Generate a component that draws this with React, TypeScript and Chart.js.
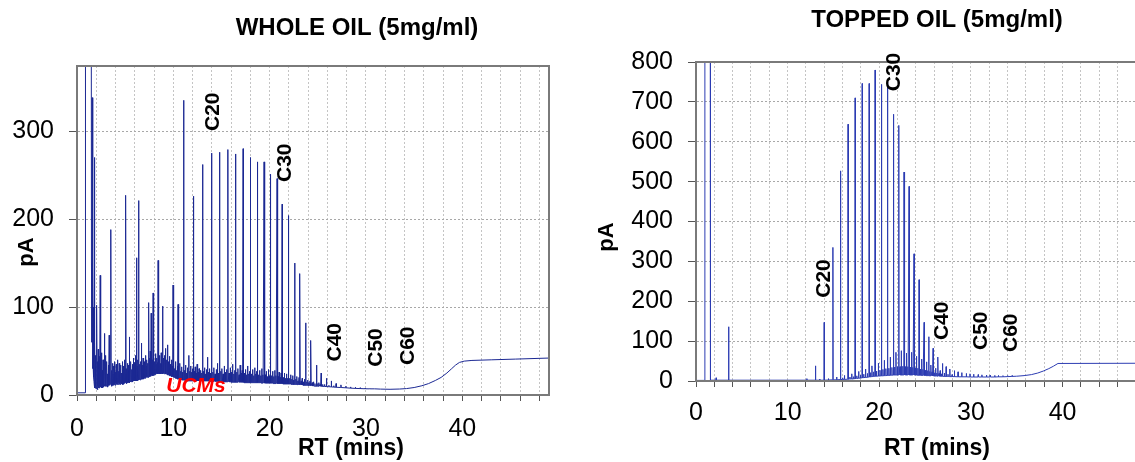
import React, { useEffect, useRef } from 'react';
import { Chart, registerables } from 'chart.js';

Chart.register(...registerables);

const FONT = '"Liberation Sans", Arial, Helvetica, sans-serif';

// ---------- shared axis labels ----------
const rtTickLabels = [0, 10, 20, 30, 40];

// ---------- WHOLE OIL ----------
// baseline stretches without peaks: [RT (min), pA]
const wholeBaseline: [number, number][] = [
  [0, 2.5], [0.86, 2.5], [0.88, 1000], [1.45, 1000], [1.5, 150],
  [30.9, 7], [31.5, 6.7], [32.5, 6.5], [33.5, 6.8], [34.2, 7.3], [35, 8.5],
  [35.8, 10.5], [36.5, 13], [37.2, 16.5], [37.8, 20], [38.4, 25], [38.9, 30],
  [39.3, 34], [39.7, 37], [40.2, 38.5], [41, 39.3], [43, 40], [45.5, 40.8], [49, 42],
];
// peaks: [RT (min), apex pA, base pA]
const wholePeaks: [number, number, number][] = [
  [1.58, 338, 60], [1.66, 145, 30], [1.72, 100, 20], [1.79, 270, 15], [1.86, 60, 8],
  [1.93, 45, 10], [2.0, 55, 7], [2.07, 102, 9], [2.14, 38, 6], [2.2, 52, 10],
  [2.27, 30, 8], [2.34, 44, 12], [2.41, 136, 10], [2.48, 35, 9], [2.55, 48, 12],
  [2.62, 28, 8], [2.7, 40, 11], [2.76, 25, 9], [2.83, 70, 12], [2.9, 32, 10],
  [2.97, 45, 13], [3.04, 27, 10], [3.11, 38, 12], [3.18, 24, 9], [3.25, 34, 12],
  [3.34, 68, 11], [3.42, 30, 13], [3.52, 188, 12], [3.6, 28, 10], [3.68, 36, 13],
  [3.75, 24, 11], [3.83, 33, 12], [3.9, 38, 13], [3.98, 26, 11], [4.06, 35, 14],
  [4.14, 30, 12], [4.22, 40, 14], [4.3, 27, 12], [4.38, 36, 14], [4.46, 29, 12],
  [4.54, 34, 14], [4.62, 25, 13], [4.7, 38, 14], [4.78, 28, 12], [4.86, 33, 15],
  [4.94, 40, 13], [5.0, 30, 14], [5.07, 227, 14], [5.15, 30, 13], [5.23, 36, 15],
  [5.3, 28, 14], [5.38, 34, 15], [5.45, 66, 14], [5.53, 30, 16], [5.6, 38, 15],
  [5.68, 29, 16], [5.76, 35, 15], [5.84, 42, 17], [5.92, 30, 16], [6.0, 37, 17],
  [6.08, 45, 16], [6.17, 156, 17], [6.25, 33, 16], [6.33, 40, 18], [6.41, 221, 17],
  [6.5, 35, 18], [6.58, 30, 17], [6.64, 38, 18], [6.7, 59, 18], [6.78, 34, 19],
  [6.86, 42, 18], [6.94, 31, 19], [7.02, 38, 20], [7.1, 45, 19], [7.18, 33, 20],
  [7.26, 40, 21], [7.35, 36, 20], [7.45, 105, 21], [7.53, 42, 22], [7.6, 50, 21],
  [7.7, 93, 22], [7.8, 40, 23], [7.9, 116, 22], [7.98, 44, 23], [8.06, 38, 24],
  [8.14, 47, 23], [8.22, 35, 24], [8.3, 42, 25], [8.36, 37, 24], [8.42, 153, 24],
  [8.5, 40, 25], [8.58, 45, 24], [8.66, 36, 25], [8.74, 48, 24], [8.82, 39, 25],
  [8.9, 101, 24], [8.98, 42, 25], [9.06, 37, 24], [9.13, 45, 25], [9.2, 53, 24],
  [9.3, 40, 24], [9.4, 57, 23], [9.5, 38, 23], [9.6, 44, 22], [9.7, 35, 22],
  [9.8, 40, 21], [9.88, 33, 21], [9.97, 125, 21], [10.06, 34, 20], [10.15, 30, 20],
  [10.24, 38, 19], [10.33, 28, 19], [10.41, 33, 19], [10.49, 103, 18], [10.58, 30, 18],
  [10.68, 36, 18], [10.78, 27, 18], [10.88, 32, 17], [10.97, 26, 17], [11.07, 335, 17],
  [11.17, 28, 17], [11.27, 34, 16], [11.37, 25, 16], [11.47, 31, 16], [11.6, 45, 16],
  [11.7, 27, 16], [11.8, 33, 16], [11.9, 26, 16], [11.98, 30, 16], [12.07, 226, 16],
  [12.17, 27, 16], [12.27, 32, 16], [12.37, 25, 16], [12.47, 35, 16], [12.57, 26, 16],
  [12.67, 30, 16], [12.77, 24, 16], [12.87, 28, 16], [12.95, 25, 16], [13.04, 262, 16],
  [13.14, 27, 16], [13.24, 31, 16], [13.34, 24, 16], [13.44, 29, 16], [13.55, 43, 16],
  [13.65, 26, 16], [13.75, 30, 15.5], [13.85, 25, 15.5], [13.97, 275, 15.5],
  [14.1, 26, 15.5], [14.22, 31, 15.5], [14.34, 24, 15.5], [14.46, 29, 15.5], [14.58, 36, 15.5], [14.69, 25, 15],
  [14.8, 276, 15],
  [14.93, 27, 15], [15.05, 30, 15], [15.17, 24, 15], [15.29, 33, 15], [15.41, 26, 15], [15.53, 29, 15],
  [15.66, 279, 15],
  [15.79, 25, 15], [15.91, 31, 15], [16.03, 26, 14.5], [16.15, 35, 14.5], [16.27, 24, 14.5], [16.37, 28, 14.5],
  [16.46, 274, 14.5],
  [16.58, 26, 14.5], [16.7, 30, 14.5], [16.82, 23, 14.5], [16.94, 34, 14.5], [17.05, 25, 14.5], [17.15, 28, 14.5],
  [17.25, 280, 14.5],
  [17.37, 25, 14], [17.49, 29, 14], [17.6, 23, 14], [17.71, 33, 14], [17.82, 24, 14], [17.91, 27, 14],
  [18.0, 270, 14],
  [18.12, 24, 14], [18.23, 29, 14], [18.34, 22, 14], [18.45, 31, 14], [18.55, 24, 14], [18.64, 27, 14],
  [18.73, 265, 14],
  [18.85, 23, 14], [18.96, 28, 14], [19.07, 22, 14], [19.18, 30, 13.5], [19.3, 23, 13.5],
  [19.42, 265, 13.5],
  [19.54, 23, 13.5], [19.65, 27, 13.5], [19.76, 21, 13.5], [19.87, 29, 13.5], [19.98, 22, 13.5],
  [20.08, 251, 13.5],
  [20.2, 22, 13.5], [20.31, 27, 13.5], [20.42, 21, 13], [20.53, 28, 13], [20.65, 22, 13],
  [20.77, 246, 13],
  [20.88, 21, 13], [20.98, 26, 13], [21.08, 20, 13], [21.19, 25, 13],
  [21.3, 217, 13],
  [21.42, 20, 12.5], [21.53, 25, 12.5], [21.64, 19, 12.5], [21.75, 24, 12.5], [21.85, 19, 12.5],
  [21.95, 204, 12.5],
  [22.07, 19, 12.5], [22.18, 23, 12.5], [22.29, 18, 12], [22.4, 22, 12], [22.5, 17, 12],
  [22.6, 150, 12],
  [22.72, 18, 12], [22.83, 21, 12], [22.94, 16, 11.5], [23.05, 20, 11.5],
  [23.15, 138, 11.5],
  [23.27, 16, 11.5], [23.38, 19, 11.5], [23.5, 15, 11], [23.62, 18, 11],
  [23.74, 82, 11],
  [23.86, 15, 11], [23.97, 17, 11], [24.08, 14, 10.5], [24.19, 16, 10.5],
  [24.29, 62, 10.5],
  [24.42, 14, 10.5], [24.55, 15, 10.5], [24.7, 13, 10],
  [24.87, 34, 10],
  [25.0, 13, 10], [25.12, 14, 10], [25.24, 12, 10],
  [25.35, 25, 10], [25.5, 12, 9.8], [25.7, 12, 9.8],
  [25.9, 19, 9.6], [26.15, 11, 9.4], [26.4, 16, 9.2], [26.65, 10.5, 9], [26.9, 13, 8.8],
  [27.4, 11.5, 8.5], [27.9, 10, 8.2], [28.4, 9.2, 7.8], [28.9, 8.7, 7.5], [29.4, 8.2, 7.3],
  [29.9, 7.8, 7.1], [30.4, 7.4, 7],
];
const wholeMarkers = ['C20', 'C30', 'C40', 'C50', 'C60'];
const wholeMarkerRT = [14.1, 21.6, 26.8, 31.1, 34.4];
const wholeMarkerPA = [322, 264, 60, 54, 56];
const ucmLabel = 'UCMs';
const ucmRT = 12.35;
const ucmPA = 10;

// ---------- TOPPED OIL ----------
const toppedBaseline: [number, number][] = [
  [0, 1.5], [0.95, 1.5], [0.97, 2000], [1.54, 2000], [1.58, 2],
  [35, 12], [35.8, 13.5], [36.6, 16], [37.3, 20], [37.9, 25], [38.5, 31],
  [39, 37], [39.5, 44], [48, 44.5], [49, 44.5],
];
const toppedPeaks: [number, number, number][] = [
  [2.2, 8, 2], [3.56, 136, 2], [12.1, 6, 2], [13.04, 38, 2], [13.5, 5, 2],
  [13.99, 147, 2], [14.45, 6, 2.5], [14.94, 335, 3], [15.35, 10, 3], [15.77, 527, 3.5],
  [16.0, 8, 4], [16.2, 14, 4], [16.6, 644, 4.5], [16.8, 10, 5], [17.0, 18, 5],
  [17.2, 11, 5.5], [17.37, 710, 6], [17.55, 13, 6.5], [17.75, 24, 7], [17.95, 15, 7.5],
  [18.14, 746, 8], [18.3, 17, 8.5], [18.5, 30, 9], [18.7, 19, 9.5], [18.9, 746, 10],
  [19.05, 21, 10.5], [19.2, 38, 11], [19.38, 23, 11.5], [19.55, 780, 12], [19.7, 25, 12],
  [19.9, 45, 12.5], [20.08, 27, 12.5], [20.24, 744, 13], [20.4, 29, 13], [20.55, 52, 13.5],
  [20.72, 31, 13.5], [20.9, 750, 14], [21.05, 32, 14], [21.2, 60, 14.5], [21.38, 34, 14.5],
  [21.55, 669, 15], [21.68, 35, 15], [21.82, 72, 15], [21.98, 36, 15], [22.13, 641, 15],
  [22.27, 36, 15], [22.4, 76, 15], [22.56, 37, 15], [22.7, 524, 15], [22.82, 36, 15],
  [22.96, 70, 15], [23.12, 36, 15], [23.26, 488, 15], [23.38, 35, 15], [23.52, 72, 15],
  [23.66, 34, 15], [23.8, 319, 15], [23.93, 33, 15], [24.06, 62, 15], [24.2, 32, 14.5],
  [24.35, 254, 14.5], [24.48, 30, 14.5], [24.62, 55, 14], [24.76, 29, 14], [24.9, 147, 14],
  [25.03, 27, 14], [25.16, 48, 13.5], [25.28, 26, 13.5], [25.4, 111, 13.5], [25.52, 24, 13],
  [25.64, 40, 13], [25.76, 23, 13], [25.88, 82, 13], [26.0, 21, 12.5], [26.15, 32, 12.5],
  [26.28, 20, 12.5], [26.4, 60, 12], [26.52, 19, 12], [26.65, 26, 12], [26.78, 18, 12],
  [26.9, 44, 12], [27.1, 20, 11.5], [27.3, 36, 11.5], [27.5, 17, 11.5], [27.7, 30, 11],
  [27.95, 16, 11], [28.2, 26, 11], [28.6, 23, 10.5], [29.0, 21, 10.5], [29.5, 19, 10.5],
  [29.9, 18, 10], [30.3, 17, 10], [30.8, 16, 10], [31.2, 15.5, 10], [31.7, 15, 10],
  [32.1, 14.5, 10], [32.6, 14, 10], [33.0, 14, 10.5], [33.5, 13.5, 10.5], [34.0, 13.5, 11],
  [34.5, 13.5, 11.5],
];
const toppedMarkers = ['C20', 'C30', 'C40', 'C50', 'C60'];
const toppedMarkerRT = [14.0, 21.6, 26.9, 31.1, 34.4];
const toppedMarkerPA = [257, 775, 151, 126, 121];

// ---------- helpers ----------
const PEAK_HALF_WIDTH = 0.025;

function buildTrace(baseline: [number, number][], peaks: [number, number, number][]) {
  const pts: { x: number; y: number }[] = baseline.map(([x, y]) => ({ x, y }));
  for (const [t, apex, base] of peaks) {
    pts.push({ x: t - PEAK_HALF_WIDTH, y: base }, { x: t, y: apex }, { x: t + PEAK_HALF_WIDTH, y: base });
  }
  pts.sort((a, b) => a.x - b.x);
  return pts;
}

type PanelCfg = {
  baseline: [number, number][];
  peaks: [number, number, number][];
  yMax: number;
  yStep: number;
  color: string;
  lineWidth: number;
  yAxisWidth: number;
  xAxisHeight: number;
  padTop: number;
  padRight: number;
  xTickPad: number;
  title: string;
  titlePos: [number, number];
  xTitlePos: [number, number];
  yTitlePos: [number, number];
  markers: string[];
  markerRT: number[];
  markerPA: number[];
  extra?: { text: string; rt: number; pa: number };
};

const textPlugin = {
  id: 'panelTexts',
  afterDraw(chart: any, _args: any, opts: any) {
    const cfg: PanelCfg = opts.cfg;
    const { ctx, chartArea, scales } = chart;
    const xs = scales.x;
    const ys = scales.y;
    ctx.save();
    // plot frame
    ctx.strokeStyle = '#7a7a7a';
    ctx.lineWidth = 2;
    ctx.strokeRect(chartArea.left, chartArea.top, chartArea.right - chartArea.left, chartArea.bottom - chartArea.top);

    ctx.fillStyle = '#000';
    ctx.textAlign = 'center';
    ctx.textBaseline = 'middle';
    // title
    ctx.font = `bold 24px ${FONT}`;
    ctx.fillText(cfg.title, cfg.titlePos[0], cfg.titlePos[1]);
    // x title
    ctx.font = `bold 23px ${FONT}`;
    ctx.fillText('RT (mins)', cfg.xTitlePos[0], cfg.xTitlePos[1]);
    // y title
    ctx.save();
    ctx.translate(cfg.yTitlePos[0], cfg.yTitlePos[1]);
    ctx.rotate(-Math.PI / 2);
    ctx.font = `bold 22px ${FONT}`;
    ctx.fillText('pA', 0, 0);
    ctx.restore();
    // carbon number markers
    ctx.font = `bold 21px ${FONT}`;
    cfg.markers.forEach((m, i) => {
      const px = xs.getPixelForValue(cfg.markerRT[i]);
      const py = ys.getPixelForValue(cfg.markerPA[i]);
      ctx.save();
      ctx.translate(px, py);
      ctx.rotate(-Math.PI / 2);
      ctx.fillText(m, 0, 0);
      ctx.restore();
    });
    if (cfg.extra) {
      ctx.font = `italic bold 21px ${FONT}`;
      ctx.fillStyle = '#ff0000';
      ctx.fillText(cfg.extra.text, xs.getPixelForValue(cfg.extra.rt), ys.getPixelForValue(cfg.extra.pa));
    }
    ctx.restore();
  },
};

function makeChart(canvas: HTMLCanvasElement, cfg: PanelCfg) {
  const data = buildTrace(cfg.baseline, cfg.peaks);
  return new Chart(canvas, {
    type: 'line',
    data: {
      datasets: [
        {
          data,
          borderColor: cfg.color,
          borderWidth: cfg.lineWidth,
          pointRadius: 0,
          tension: 0,
          borderJoinStyle: 'bevel',
          fill: false,
        },
      ],
    },
    options: {
      responsive: false,
      animation: false,
      parsing: false,
      normalized: true,
      events: [],
      layout: { padding: { top: cfg.padTop, right: cfg.padRight, left: 0, bottom: 0 } },
      plugins: {
        legend: { display: false },
        tooltip: { enabled: false },
        title: { display: false },
        panelTexts: { cfg },
      } as any,
      scales: {
        x: {
          type: 'linear',
          min: 0,
          max: 49,
          afterFit: (s: any) => {
            s.height = cfg.xAxisHeight;
          },
          ticks: {
            stepSize: 2,
            includeBounds: false,
            autoSkip: false,
            maxRotation: 0,
            padding: cfg.xTickPad,
            color: '#000',
            font: { family: FONT, size: 25 },
            callback: (v: any) => (rtTickLabels.includes(Number(v)) ? String(v) : ''),
          },
          grid: {
            color: '#c4c4c4',
            lineWidth: 1,
            tickLength: 6,
            tickColor: '#555',
            tickWidth: 1,
          },
          border: { display: true, color: '#7a7a7a', width: 2, dash: [2, 2] },
        },
        y: {
          type: 'linear',
          min: 0,
          max: cfg.yMax,
          afterFit: (s: any) => {
            s.width = cfg.yAxisWidth;
          },
          ticks: {
            stepSize: cfg.yStep,
            includeBounds: false,
            padding: 15,
            color: '#000',
            font: { family: FONT, size: 25 },
          },
          grid: {
            color: '#a8a8a8',
            lineWidth: 1,
            tickLength: 8,
            tickColor: '#555',
            tickWidth: 1,
          },
          border: { display: true, color: '#7a7a7a', width: 2, dash: [2, 2] },
        },
      },
    } as any,
    plugins: [textPlugin],
  });
}

const wholeCfg: PanelCfg = {
  baseline: wholeBaseline,
  peaks: wholePeaks,
  yMax: 374,
  yStep: 100,
  color: '#1b2893',
  lineWidth: 1,
  yAxisWidth: 77,
  xAxisHeight: 67,
  padTop: 66,
  padRight: 21,
  xTickPad: 13,
  title: 'WHOLE OIL (5mg/ml)',
  titlePos: [357, 28],
  xTitlePos: [351, 449],
  yTitlePos: [27, 252],
  markers: wholeMarkers,
  markerRT: wholeMarkerRT,
  markerPA: wholeMarkerPA,
  extra: { text: ucmLabel, rt: ucmRT, pa: ucmPA },
};

const toppedCfg: PanelCfg = {
  baseline: toppedBaseline,
  peaks: toppedPeaks,
  yMax: 800,
  yStep: 100,
  color: '#2c3cb2',
  lineWidth: 1,
  yAxisWidth: 116,
  xAxisHeight: 81,
  padTop: 62,
  padRight: 10,
  xTickPad: 11,
  title: 'TOPPED OIL (5mg/ml)',
  titlePos: [357, 20],
  xTitlePos: [357, 449],
  yTitlePos: [27, 237],
  markers: toppedMarkers,
  markerRT: toppedMarkerRT,
  markerPA: toppedMarkerPA,
};

export default function App() {
  const leftRef = useRef<HTMLCanvasElement>(null);
  const rightRef = useRef<HTMLCanvasElement>(null);

  useEffect(() => {
    document.body.style.overflow = 'hidden';
    const c1 = makeChart(leftRef.current as HTMLCanvasElement, wholeCfg);
    const c2 = makeChart(rightRef.current as HTMLCanvasElement, toppedCfg);
    return () => {
      c1.destroy();
      c2.destroy();
    };
  }, []);

  return (
    <div
      style={{
        position: 'fixed',
        left: 0,
        top: 0,
        width: 1135,
        height: 462,
        overflow: 'hidden',
        background: '#fff',
      }}
    >
      <canvas
        ref={leftRef}
        width={570}
        height={462}
        style={{ position: 'absolute', left: 0, top: 0, width: 570, height: 462 }}
      />
      <canvas
        ref={rightRef}
        width={575}
        height={462}
        style={{ position: 'absolute', left: 580, top: 0, width: 575, height: 462 }}
      />
    </div>
  );
}
